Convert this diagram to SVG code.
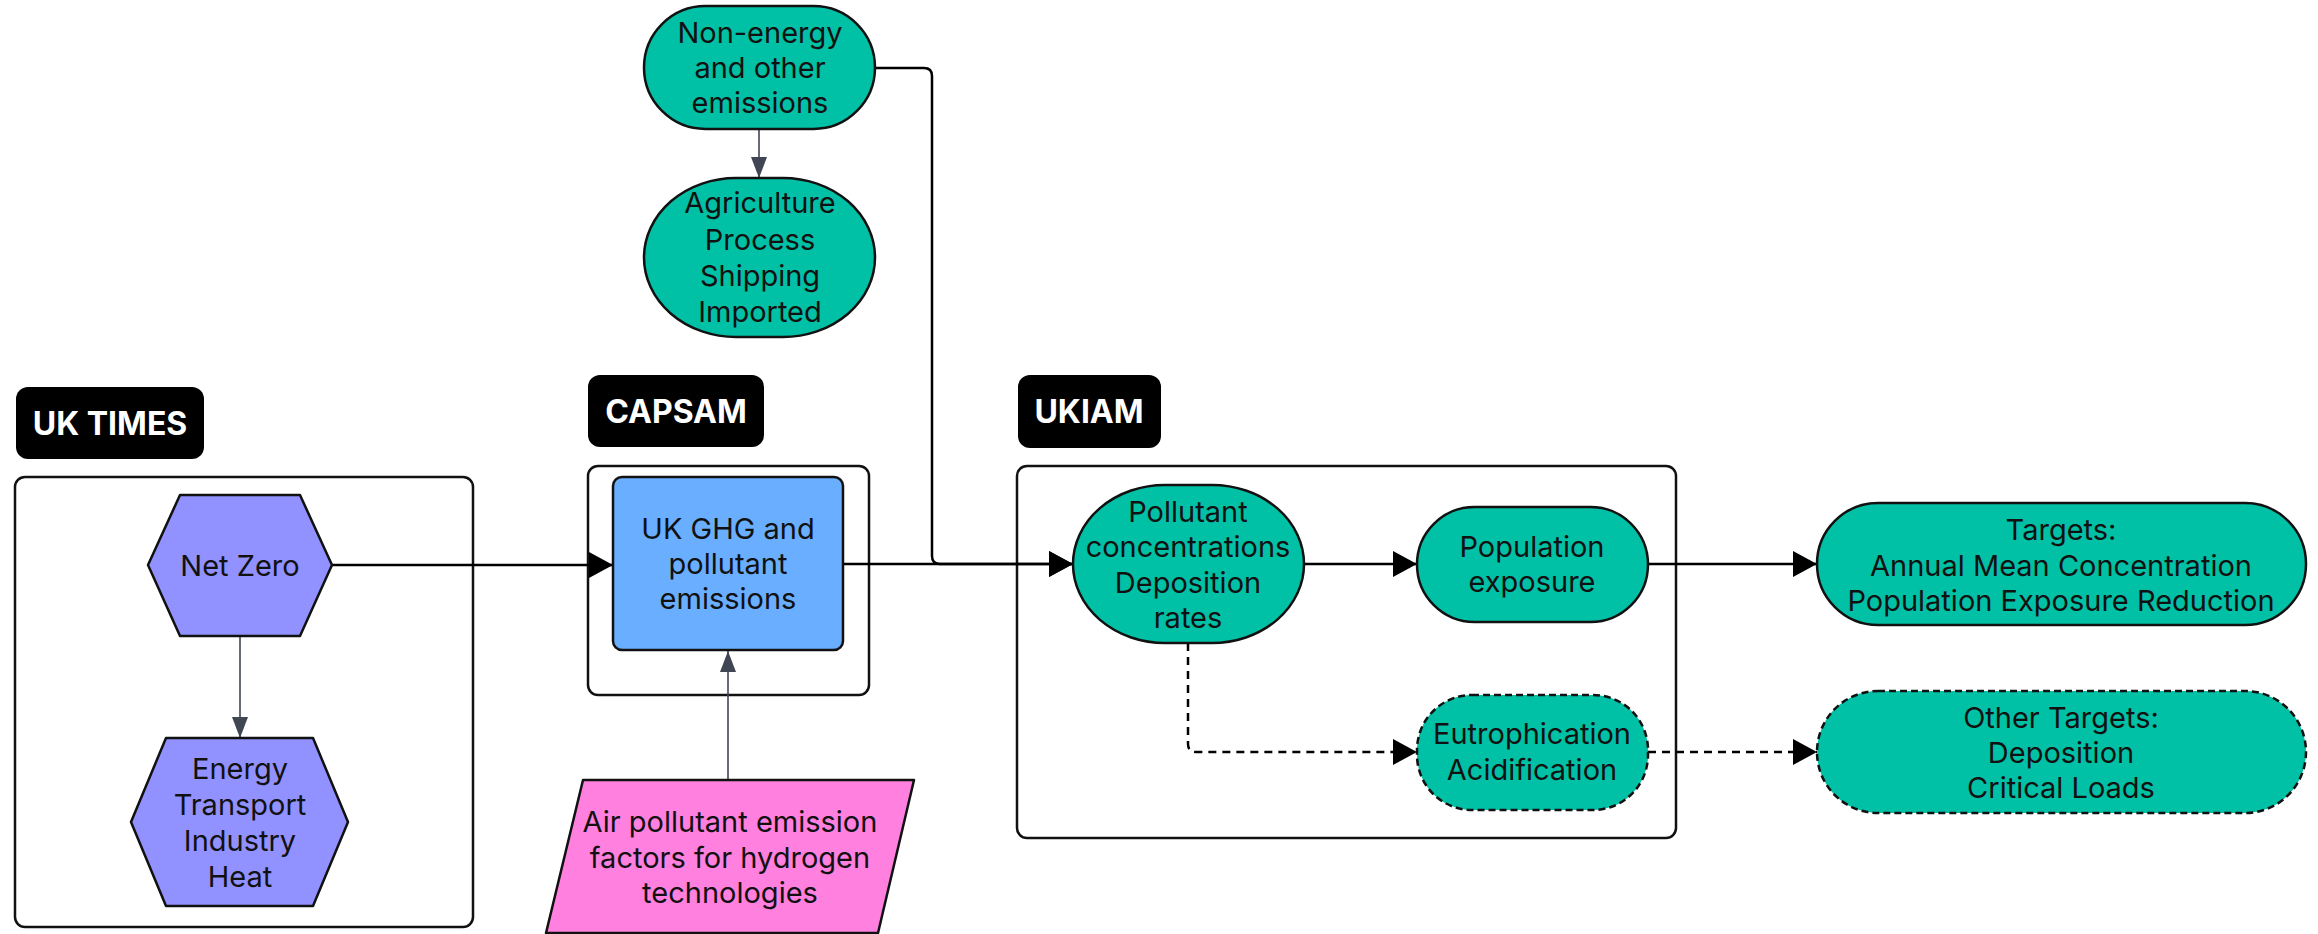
<svg xmlns="http://www.w3.org/2000/svg" width="2318" height="934" viewBox="0 0 2318 934">
<style>
  .container { fill: none; stroke: #111; stroke-width: 2.5; }
  .label-bg { fill: #000; }
  .label { font-family: Inter, "Liberation Sans", sans-serif; font-weight: 700; font-size: 32px; fill: #fff; text-anchor: middle; }
  .t { font-family: Inter, "Liberation Sans", sans-serif; font-size: 29px; fill: #111; text-anchor: middle; }
  .hex { fill: #9191ff; stroke: #111; stroke-width: 2.5; stroke-linejoin: round; }
  .blue { fill: #6aaeff; stroke: #111; stroke-width: 2.5; }
  .teal { fill: #00c0a6; stroke: #111; stroke-width: 2.5; }
  .dash { stroke-dasharray: 7 4; }
  .pink { fill: #ff80df; stroke: #111; stroke-width: 2.5; stroke-linejoin: round; }
  .conn { fill: none; stroke: #000; stroke-width: 2.5; }
  .conn-gray { fill: none; stroke: #404653; stroke-width: 1.6; }
  .conn-dash { fill: none; stroke: #000; stroke-width: 2.5; stroke-dasharray: 8 6; }
</style>
<defs>
  <marker id="ab" markerUnits="userSpaceOnUse" markerWidth="24" markerHeight="26" refX="24" refY="13" orient="auto">
    <path d="M0,0 L24,13 L0,26 Z" fill="#000"/>
  </marker>
  <marker id="ag" markerUnits="userSpaceOnUse" markerWidth="21" markerHeight="16" refX="21" refY="8" orient="auto">
    <path d="M0,0 L21,8 L0,16 Z" fill="#404653"/>
  </marker>
</defs>
<rect width="2318" height="934" fill="#fff"/>

<g id="uktimes-group">
  <rect class="label-bg" x="16" y="387" width="188" height="72" rx="12"/>
  <text class="label" x="110" y="435">UK TIMES</text>
  <rect class="container" x="15" y="477" width="458" height="450" rx="10"/>
</g>
<g id="capsam-group">
  <rect class="label-bg" x="588" y="375" width="176" height="72" rx="12"/>
  <text class="label" x="676" y="423">CAPSAM</text>
  <rect class="container" x="588" y="466" width="281" height="229" rx="10"/>
</g>
<g id="ukiam-group">
  <rect class="label-bg" x="1018" y="375" width="143" height="73" rx="12"/>
  <text class="label" x="1089" y="423">UKIAM</text>
  <rect class="container" x="1017" y="466" width="659" height="372" rx="10"/>
</g>

<g id="connectors">
  <path class="conn" d="M332,565 H613" marker-end="url(#ab)"/>
  <path class="conn-gray" d="M240,636 V738" marker-end="url(#ag)"/>
  <path class="conn-gray" d="M759,129 V178" marker-end="url(#ag)"/>
  <path class="conn-gray" d="M728,780 V651" marker-end="url(#ag)"/>
  <path class="conn" d="M843,564 H1073" marker-end="url(#ab)"/>
  <path class="conn" d="M875,68 H924 Q932,68 932,76 V556 Q932,564 940,564 H1073" marker-end="url(#ab)"/>
  <path class="conn" d="M1304,564 H1417" marker-end="url(#ab)"/>
  <path class="conn" d="M1648,564 H1817" marker-end="url(#ab)"/>
  <path class="conn-dash" d="M1188,643 V744 Q1188,752 1196,752 H1417" marker-end="url(#ab)"/>
  <path class="conn-dash" d="M1648,752 H1817" marker-end="url(#ab)"/>
</g>

<g id="net-zero">
  <polygon class="hex" points="148,565 180,495 300,495 332,565 300,636 180,636"/>
  <text class="t" x="240" y="576">Net Zero</text>
</g>
<g id="energy">
  <polygon class="hex" points="131,822 166,738 313,738 348,822 313,906 166,906"/>
  <text class="t" x="240" y="779">Energy</text>
  <text class="t" x="240" y="815">Transport</text>
  <text class="t" x="240" y="851">Industry</text>
  <text class="t" x="240" y="887">Heat</text>
</g>
<g id="uk-ghg">
  <rect class="blue" x="613" y="477" width="230" height="173" rx="9"/>
  <text class="t" x="728" y="539">UK GHG and</text>
  <text class="t" x="728" y="574">pollutant</text>
  <text class="t" x="728" y="609">emissions</text>
</g>
<g id="air-pollutant">
  <polygon class="pink" points="583,780 914,780 878,933 546,933"/>
  <text class="t" x="730" y="832">Air pollutant emission</text>
  <text class="t" x="730" y="868">factors for hydrogen</text>
  <text class="t" x="730" y="903">technologies</text>
</g>
<g id="non-energy">
  <rect class="teal" x="644" y="6" width="231" height="123" rx="61.5"/>
  <text class="t" x="760" y="43">Non-energy</text>
  <text class="t" x="760" y="78">and other</text>
  <text class="t" x="760" y="113">emissions</text>
</g>
<g id="agriculture">
  <rect class="teal" x="644" y="178" width="231" height="159" rx="92" ry="79.5"/>
  <text class="t" x="760" y="213">Agriculture</text>
  <text class="t" x="760" y="250">Process</text>
  <text class="t" x="760" y="286">Shipping</text>
  <text class="t" x="760" y="322">Imported</text>
</g>
<g id="pollutant">
  <rect class="teal" x="1073" y="485" width="231" height="158" rx="92" ry="79"/>
  <text class="t" x="1188" y="522">Pollutant</text>
  <text class="t" x="1188" y="557">concentrations</text>
  <text class="t" x="1188" y="593">Deposition</text>
  <text class="t" x="1188" y="628">rates</text>
</g>
<g id="population">
  <rect class="teal" x="1417" y="507" width="231" height="115" rx="57.5"/>
  <text class="t" x="1532" y="557">Population</text>
  <text class="t" x="1532" y="592">exposure</text>
</g>
<g id="eutrophication">
  <rect class="teal dash" x="1417" y="695" width="231" height="115" rx="55"/>
  <text class="t" x="1532" y="744">Eutrophication</text>
  <text class="t" x="1532" y="780">Acidification</text>
</g>
<g id="targets">
  <rect class="teal" x="1817" y="503" width="489" height="122" rx="61"/>
  <text class="t" x="2061" y="540">Targets:</text>
  <text class="t" x="2061" y="576">Annual Mean Concentration</text>
  <text class="t" x="2061" y="611">Population Exposure Reduction</text>
</g>
<g id="other-targets">
  <rect class="teal dash" x="1817" y="691" width="489" height="122" rx="61"/>
  <text class="t" x="2061" y="728">Other Targets:</text>
  <text class="t" x="2061" y="763">Deposition</text>
  <text class="t" x="2061" y="798">Critical Loads</text>
</g>
</svg>
